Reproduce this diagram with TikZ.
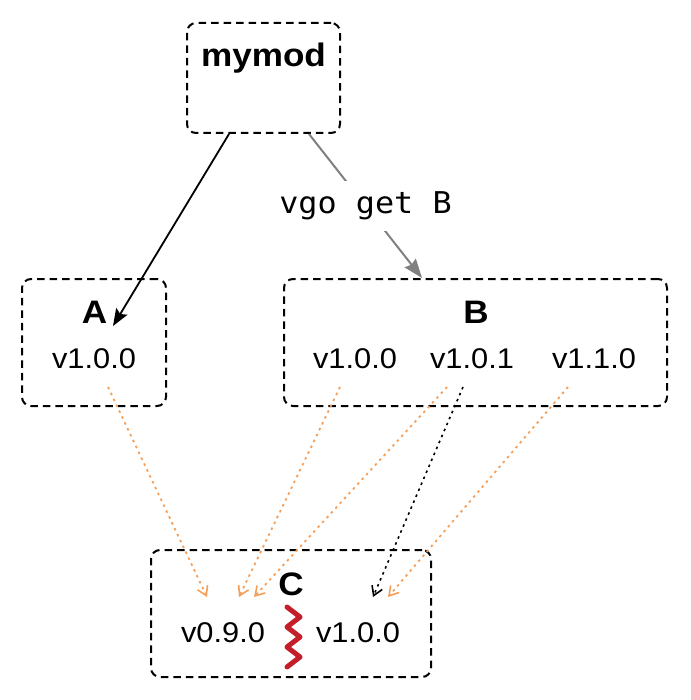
\documentclass[tikz,border=0pt]{standalone}
\usepackage{fontspec}
\setmainfont{Liberation Sans}[FakeStretch=1.08]
\newfontfamily\monofont{DejaVu Sans Mono}[FakeStretch=1.06]
\usetikzlibrary{arrows.meta}
\definecolor{orng}{RGB}{245,160,90}
\definecolor{zred}{RGB}{196,30,42}
\definecolor{gry}{RGB}{128,128,128}
\begin{document}
\begin{tikzpicture}[x=1pt,y=-1pt,
  box/.style={draw, line width=2pt, dash pattern=on 7.5pt off 5pt, rounded corners=9pt, inner sep=0pt},
  head/.style={font=\fontsize{32.5}{36}\selectfont\bfseries, inner sep=0pt, anchor=base},
  ver/.style={font=\fontsize{28.5}{33}\selectfont, inner sep=0pt, anchor=base},
  blkarrow/.style={line width=1.8pt, -{Stealth[length=17pt,width=13pt,inset=3pt]}},
  gryarrow/.style={line width=2pt, gry, -{Stealth[length=19pt,width=14pt,inset=2pt]}},
  cmd/.style={font=\monofont\fontsize{30}{34}\selectfont, fill=white, text=black, inner xsep=8pt, inner ysep=11pt},
  odep/.style={orng, line width=1.8pt, dash pattern=on 2.5pt off 4pt, -{Straight Barb[length=9pt,width=11pt,line width=1.6pt]}},
  kdep/.style={black, line width=1.6pt, dash pattern=on 2.5pt off 4pt, -{Straight Barb[length=9pt,width=11pt,line width=1.6pt]}},
  zz/.style={zred, line width=5pt, line join=round, line cap=round}
]
\useasboundingbox (0,0) rectangle (690,700);
% boxes
\node[box, minimum width=153pt, minimum height=110pt] (mymod) at (263.5,78) {};
\node[box, minimum width=144pt, minimum height=127pt] (A) at (94,342.5) {};
\node[box, minimum width=383pt, minimum height=127pt] (B) at (475.5,342.5) {};
\node[box, minimum width=280pt, minimum height=127pt] (C) at (291,613.5) {};
% labels
\node[head] (mymodlab) at (263.5,67) {mymod};
\node[head] (Alab) at (94.5,323) {A};
\node[head] (Blab) at (476,323) {B};
\node[head] (Clab) at (291,595) {C};
\node[ver] (a1) at (94,368) {v1.0.0};
\node[ver] (b1) at (355,368) {v1.0.0};
\node[ver] (b2) at (472,368) {v1.0.1};
\node[ver] (b3) at (594,368) {v1.1.0};
\node[ver] (c1) at (223,642) {v0.9.0};
\node[ver] (c2) at (358,642) {v1.0.0};
% main arrows
\coordinate (Atip) at (113,326);
\draw[blkarrow] ([xshift=-34.5pt]mymod.south) -- (Atip);
\draw[gryarrow] ([xshift=45.5pt]mymod.south) -- node[cmd] {vgo get B} ([xshift=-53.5pt]B.north);
% dependency arrows
\draw[odep] ([shift={(14,19)}]a1.base) -- ([shift={(-16,-45)}]c1.base);
\draw[odep] ([shift={(-15,19)}]b1.base) -- ([shift={(16,-45)}]c1.base);
\draw[odep] ([shift={(-25,19)}]b2.base) -- ([shift={(31,-45)}]c1.base);
\draw[kdep] ([shift={(-9,19)}]b2.base) -- ([shift={(15,-45)}]c2.base);
\draw[odep] ([shift={(-26,19)}]b3.base) -- ([shift={(30,-45)}]c2.base);
% conflict zigzag
\draw[zz] (287,607) -- (300,617) -- (287,627) -- (300,637) -- (287,647) -- (300,657) -- (287,667);
\end{tikzpicture}
\end{document}
